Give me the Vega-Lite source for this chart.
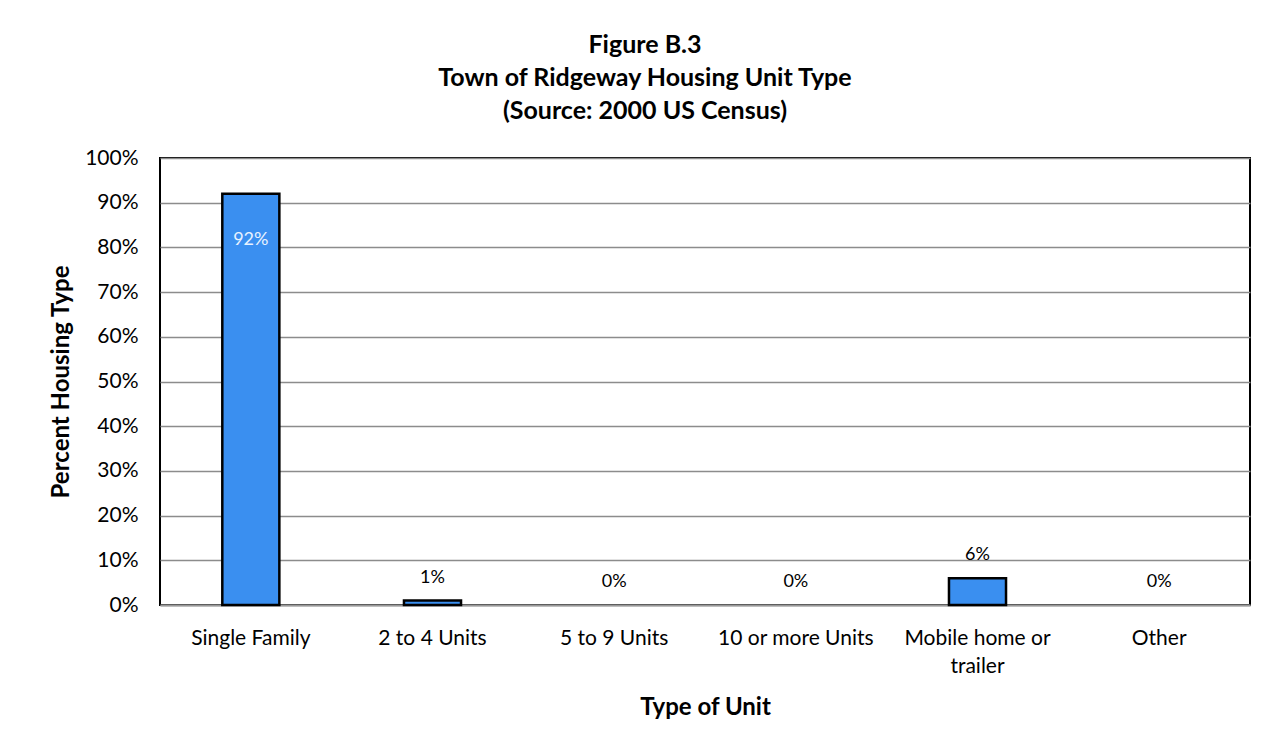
{
  "$schema": "https://vega.github.io/schema/vega-lite/v6.json",
  "autosize": {"type": "none"},
  "width": 1090,
  "height": 447,
  "padding": {"left": 160, "top": 158, "right": 31, "bottom": 144},
  "background": "white",
  "config": {
    "font": "Lato",
    "view": {"stroke": "black", "strokeWidth": 2}
  },
  "title": {
    "text": ["Figure B.3", "Town of Ridgeway Housing Unit Type", "(Source: 2000 US Census)"],
    "font": "Lato",
    "fontSize": 25,
    "fontWeight": "bold",
    "color": "black",
    "anchor": "middle",
    "dx": -60,
    "lineHeight": 33,
    "offset": 23
  },
  "data": {
    "values": [
      {"type": "Single Family", "pct": 92, "label": "92%"},
      {"type": "2 to 4 Units", "pct": 1, "label": "1%"},
      {"type": "5 to 9 Units", "pct": 0, "label": "0%"},
      {"type": "10 or more Units", "pct": 0, "label": "0%"},
      {"type": "Mobile home or trailer", "pct": 6, "label": "6%"},
      {"type": "Other", "pct": 0, "label": "0%"}
    ]
  },
  "encoding": {
    "x": {
      "field": "type",
      "type": "nominal",
      "sort": null,
      "scale": {"paddingInner": 0.686, "paddingOuter": 0.343},
      "axis": {
        "title": "Type of Unit",
        "labelAngle": 0,
        "labelFontSize": 21,
        "labelColor": "black",
        "labelPadding": 22,
        "labelLineHeight": 28,
        "labelExpr": "datum.label == 'Mobile home or trailer' ? ['Mobile home or', 'trailer'] : datum.label",
        "ticks": false,
        "domainColor": "#999999",
        "domainWidth": 2,
        "titleFontSize": 24,
        "titleFontWeight": "bold",
        "titleColor": "black",
        "titlePadding": 19
      }
    },
    "y": {
      "field": "pct",
      "type": "quantitative",
      "scale": {"domain": [0, 100]},
      "axis": {
        "title": "Percent Housing Type",
        "values": [0, 10, 20, 30, 40, 50, 60, 70, 80, 90, 100],
        "labelExpr": "datum.value + '%'",
        "labelFontSize": 21,
        "labelColor": "black",
        "labelPadding": 22,
        "ticks": false,
        "domain": false,
        "grid": true,
        "gridColor": "#8c8c8c",
        "gridWidth": 1.5,
        "titleFontSize": 24,
        "titleFontWeight": "bold",
        "titleColor": "black",
        "titlePadding": 11
      }
    }
  },
  "layer": [
    {
      "mark": {"type": "bar", "fill": "#3a8ff0", "stroke": "black", "strokeWidth": 2.5},
      "encoding": {
        "strokeOpacity": {"condition": {"test": "datum.pct == 0", "value": 0}, "value": 1}
      }
    },
    {
      "transform": [{"filter": "datum.pct > 50"}],
      "mark": {"type": "text", "baseline": "middle", "dy": 46, "fontSize": 18, "color": "#e8f2ff"},
      "encoding": {"text": {"field": "label"}}
    },
    {
      "transform": [{"filter": "datum.pct <= 50"}],
      "mark": {"type": "text", "baseline": "bottom", "dy": -14, "fontSize": 18, "color": "black"},
      "encoding": {"text": {"field": "label"}}
    }
  ]
}
